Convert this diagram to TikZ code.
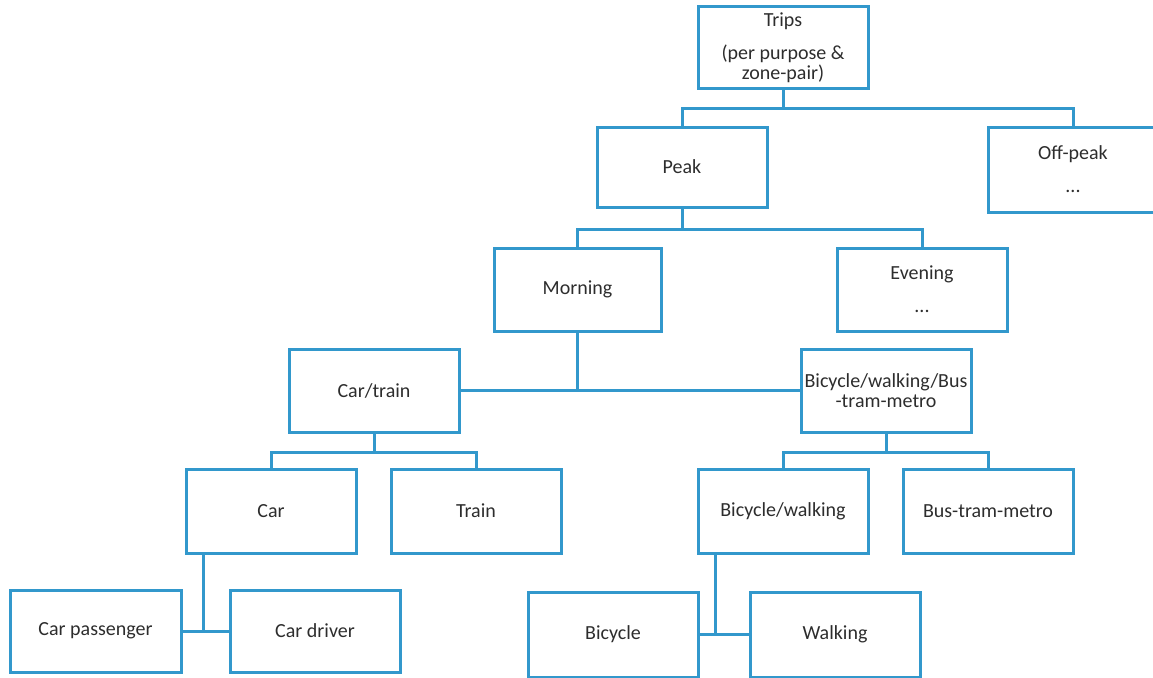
\documentclass[tikz,border=0pt]{standalone}
\usepackage{fontspec}
\setmainfont{Carlito}
\usetikzlibrary{positioning}
\definecolor{treeblue}{RGB}{50,152,204}
\definecolor{labelgray}{RGB}{45,45,45}
\newlength{\gapline}
\setlength{\gapline}{13.5pt}

\begin{document}
\begin{tikzpicture}[x=1pt, y=1pt,
    box/.style={draw=treeblue, line width=3pt, minimum width=170pt, minimum height=82pt,
      inner sep=0pt, outer sep=0pt, text=labelgray, align=center,
      font=\fontsize{20}{19.5}\selectfont},
    branch/.style={draw=treeblue, line width=3pt}]
    \useasboundingbox (0,0) rectangle (1153,-677);

    % Top level
    \node[box, minimum height=81pt] (trips) at (783,-47.5) {Trips\\[\gapline](per purpose \&\\zone-pair)};

    % Peak / off-peak
    \node[box, below=39pt of trips, xshift=-101pt, minimum height=80pt] (peak) {Peak};
    \node[box, below=39pt of trips, xshift=290pt, minimum height=85pt] (offpeak) {Off-peak\\[\gapline]...};

    % Morning / evening
    \node[box, below=41pt of peak, xshift=-104.5pt, minimum width=167pt, minimum height=83pt] (morning) {Morning};
    \node[box, below=41pt of peak, xshift=240pt, minimum height=83pt] (evening) {Evening\\[\gapline]...};

    % Mode groups
    \node[box, below=18pt of morning, xshift=-203.5pt, minimum height=83pt] (cartrain) {Car/train};
    \node[box, below=18pt of morning, xshift=308.5pt, minimum height=83pt] (bikebus) {Bicycle/walking/Bus\\-tram-metro};

    % Modes
    \node[box, below=37pt of cartrain, xshift=-103pt, minimum height=84pt] (car) {Car};
    \node[box, below=37pt of cartrain, xshift=102pt, minimum height=84pt] (train) {Train};
    \node[box, below=37pt of bikebus, xshift=-103pt, minimum height=84pt] (bikewalk) {Bicycle/walking};
    \node[box, below=37pt of bikebus, xshift=102pt, minimum height=84pt] (btm) {Bus-tram-metro};

    % Sub modes
    \node[box, below=37pt of car, xshift=-175.5pt, minimum width=171pt] (carpass) {Car passenger};
    \node[box, below=37pt of car, xshift=44pt] (cardriver) {Car driver};
    \node[box, below=39pt of bikewalk, xshift=-170pt, minimum height=85pt] (bicycle) {Bicycle};
    \node[box, below=39pt of bikewalk, xshift=52pt, minimum height=85pt] (walking) {Walking};

    % Junctions
    \coordinate (tripsj) at ([yshift=-20pt]trips.south);
    \coordinate (peakj) at ([yshift=-22pt]peak.south);
    \coordinate (cartrainj) at ([yshift=-20pt]cartrain.south);
    \coordinate (bikebusj) at ([yshift=-20pt]bikebus.south);
    \coordinate (carj) at ([xshift=-68pt]car.south);
    \coordinate (bikewalkj) at ([xshift=-68pt]bikewalk.south);

    % Connectors
    \draw[branch] (trips.south) -- (tripsj);
    \draw[branch] (peak.north) |- (tripsj) -| (offpeak.north);
    \draw[branch] (peak.south) -- (peakj);
    \draw[branch] (morning.north) |- (peakj) -| (evening.north);
    \draw[branch] (cartrain.east) -- (bikebus.west);
    \draw[branch] (morning.south) -- (morning.south |- cartrain.east);
    \draw[branch] (cartrain.south) -- (cartrainj);
    \draw[branch] (car.north) |- (cartrainj) -| (train.north);
    \draw[branch] (bikebus.south) -- (bikebusj);
    \draw[branch] (bikewalk.north) |- (bikebusj) -| (btm.north);
    \draw[branch] (carpass.east) -- (cardriver.west);
    \draw[branch] (carj) -- (carj |- carpass.east);
    \draw[branch] (bicycle.east) -- (walking.west);
    \draw[branch] (bikewalkj) -- (bikewalkj |- bicycle.east);
  \end{tikzpicture}
\end{document}
